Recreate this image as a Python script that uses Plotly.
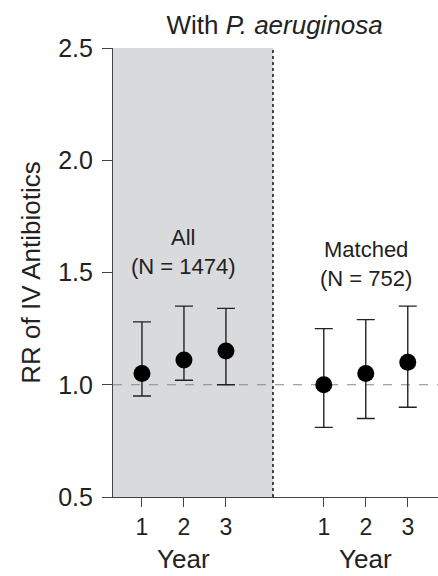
import plotly.graph_objects as go

years = [1, 2, 3]
year_labels = ["1", "2", "3"]
groups = ["All", "Matched"]
group_labels = ["All<br>(N = 1474)", "Matched<br>(N = 752)"]
all_rr = [1.05, 1.11, 1.15]
all_lo = [0.95, 1.02, 1.00]
all_hi = [1.28, 1.35, 1.34]
matched_rr = [1.00, 1.05, 1.10]
matched_lo = [0.81, 0.85, 0.90]
matched_hi = [1.25, 1.29, 1.35]
y_ticks = [0.5, 1.0, 1.5, 2.0, 2.5]

offset = 4.33
FONT = "Liberation Sans, Arial, sans-serif"

x_all = [y for y in years]
x_m = [y + offset for y in years]

fig = go.Figure()
for xs, rr, lo, hi in [(x_all, all_rr, all_lo, all_hi), (x_m, matched_rr, matched_lo, matched_hi)]:
    fig.add_trace(go.Scatter(
        x=xs, y=rr, mode="markers",
        marker=dict(color="black", size=17),
        error_y=dict(type="data", symmetric=False,
                     array=[h - r for h, r in zip(hi, rr)],
                     arrayminus=[r - l for r, l in zip(rr, lo)],
                     color="#222", thickness=1.4, width=9),
        showlegend=False, cliponaxis=False,
    ))

x0, x1 = 0.31, 8.05
divider = 4.12
fig.add_shape(type="rect", xref="x", yref="paper", x0=x0, x1=divider, y0=0, y1=1,
              fillcolor="#d9dadc", line_width=0, layer="below")
fig.add_shape(type="line", xref="x", yref="paper", x0=divider, x1=divider, y0=0, y1=1,
              line=dict(color="#111", width=1.5, dash="dot"))
fig.add_shape(type="line", xref="paper", yref="y", x0=0, x1=1, y0=1.0, y1=1.0,
              line=dict(color="#888", width=1.2, dash="dash"), layer="below")

fig.add_annotation(x=2, y=1.59, xref="x", yref="y", text=group_labels[0], showarrow=False,
                   font=dict(size=22, color="#222", family=FONT), yanchor="middle")
fig.add_annotation(x=2 + offset, y=1.54, xref="x", yref="y", text=group_labels[1], showarrow=False,
                   font=dict(size=22, color="#222", family=FONT), yanchor="middle")
for cx in [2, 2 + offset]:
    fig.add_annotation(x=cx, y=-0.138, xref="x", yref="paper", text="Year", showarrow=False,
                       font=dict(size=26, color="#222", family=FONT), yanchor="middle")

fig.update_layout(
    width=438, height=576,
    margin=dict(l=113, r=0, t=48, b=79),
    plot_bgcolor="white", paper_bgcolor="white",
    font=dict(family=FONT, color="#222", size=20),
    title=dict(text="With <i>P. aeruginosa</i>", x=0.627, xanchor="center", y=0.956, yanchor="middle",
               font=dict(size=26, family=FONT, color="#222")),
    xaxis=dict(range=[x0, x1], tickvals=x_all + x_m, ticktext=year_labels + year_labels,
               ticks="outside", ticklen=9, tickwidth=1.2, tickcolor="#444",
               showline=True, linecolor="#444", linewidth=1.2, showgrid=False, zeroline=False,
               tickfont=dict(size=23)),
    yaxis=dict(range=[0.5, 2.5], tickvals=y_ticks, ticktext=[f"{v:.1f}" for v in y_ticks],
               ticks="outside", ticklen=10, tickwidth=1.2, tickcolor="#444",
               showline=True, linecolor="#444", linewidth=1.2, showgrid=False, zeroline=False,
               tickfont=dict(size=25), ticklabelstandoff=4,
               title=dict(text="RR of IV Antibiotics", font=dict(size=26), standoff=10)),
)

fig.write_html("out.html")
